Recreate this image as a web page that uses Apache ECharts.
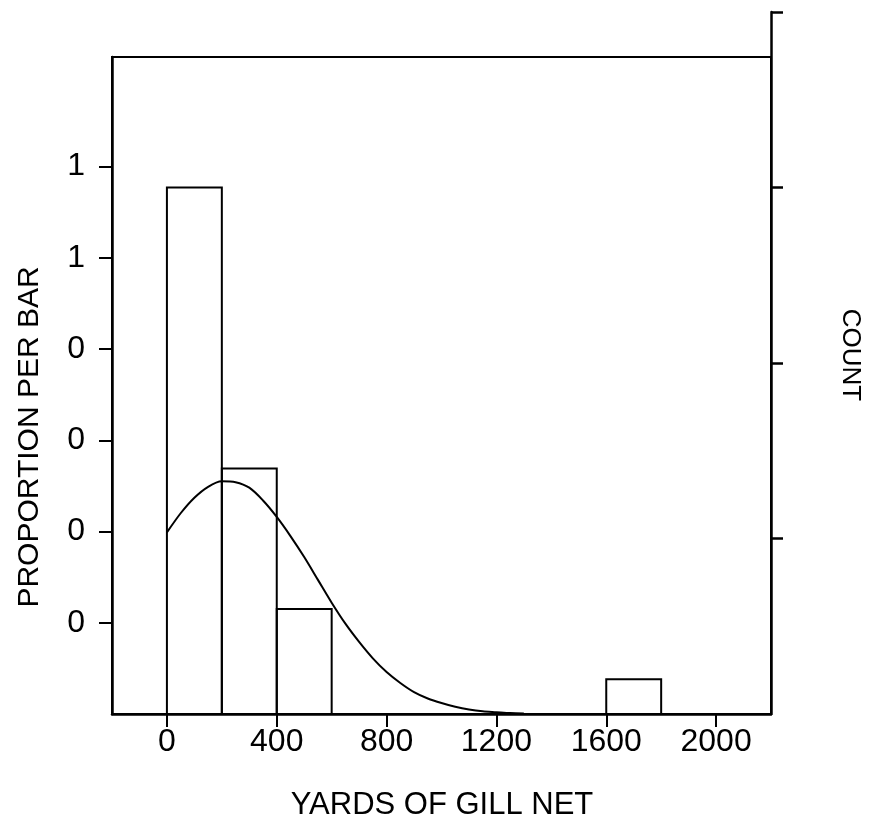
<!DOCTYPE html>
<html><head><meta charset="utf-8">
<script src="https://cdn.jsdelivr.net/npm/echarts@6/dist/echarts.min.js"></script>
<style>html,body{margin:0;padding:0;background:#fff}#c{width:885px;height:831px}</style>
</head><body><div id="c"></div>
<script>
// Histogram bins (yards of gill net) and proportion per bar
var binStart = [0, 200, 400, 1600];
var binEnd = [200, 400, 600, 1800];
var binProportion = [0.577, 0.269, 0.115, 0.038];
// Smooth curve
var curveX = [0, 50, 100, 150, 200, 250, 300, 350, 400, 450, 500, 550, 600, 650, 700, 750, 800, 850, 900, 950, 1000, 1050, 1100, 1150, 1200, 1250, 1300];
var curveY = [0.199, 0.220, 0.237, 0.249, 0.255, 0.254, 0.248, 0.234, 0.216, 0.195, 0.172, 0.147, 0.122, 0.099, 0.079, 0.061, 0.046, 0.034, 0.024, 0.017, 0.012, 0.008, 0.005, 0.003, 0.002, 0.001, 0.0005];
// Tick values / labels
var xTicks = [0, 400, 800, 1200, 1600, 2000];
var xTickLabels = ['0', '400', '800', '1200', '1600', '2000'];
var yTicks = [0.1, 0.2, 0.3, 0.4, 0.5, 0.6];
var yTickLabels = ['0', '0', '0', '0', '1', '1'];
var countTicks = [5, 10, 15, 20];

var FONT = 'Liberation Sans, Arial, sans-serif';
var chart = echarts.init(document.getElementById('c'), null, {renderer: 'canvas'});

var histData = binStart.map(function (s, i) { return [s, binEnd[i], binProportion[i]]; });
var curveData = curveX.map(function (x, i) { return [x, curveY[i]]; });

function lookup(ticks, labels, v) {
  for (var i = 0; i < ticks.length; i++) { if (Math.abs(ticks[i] - v) < 1e-6) return labels[i]; }
  return '';
}

var option = {
  backgroundColor: '#fff',
  animation: false,
  grid: [
    {left: 112, right: 114, top: 57, bottom: 117, show: true, borderColor: '#000', borderWidth: 2, backgroundColor: 'transparent'},
    {left: 112, right: 114, top: 12, bottom: 117, show: false}
  ],
  xAxis: [
    {
      type: 'value', gridIndex: 0, min: -200, max: 2200,
      axisLine: {show: true, onZero: false, lineStyle: {color: '#000', width: 2.5}},
      axisTick: {show: true, inside: false, length: 13, customValues: xTicks, lineStyle: {color: '#000', width: 2}},
      axisLabel: {show: true, customValues: xTicks, margin: 12, color: '#000', fontSize: 32, fontFamily: FONT,
        formatter: function (v) { return lookup(xTicks, xTickLabels, v); }},
      splitLine: {show: false}
    },
    {
      type: 'value', gridIndex: 1, min: -200, max: 2200, show: false
    }
  ],
  yAxis: [
    {
      type: 'value', gridIndex: 0, min: 0, max: 0.72, position: 'left',
      axisLine: {show: true, onZero: false, lineStyle: {color: '#000', width: 2.5}},
      axisTick: {show: true, inside: false, length: 13, customValues: yTicks, lineStyle: {color: '#000', width: 2}},
      axisLabel: {show: true, customValues: yTicks, margin: 27, color: '#000', fontSize: 32, fontFamily: FONT,
        formatter: function (v) { return lookup(yTicks, yTickLabels, v); }},
      splitLine: {show: false}
    },
    {
      type: 'value', gridIndex: 1, min: 0, max: 20, position: 'right',
      axisLine: {show: true, onZero: false, lineStyle: {color: '#000', width: 2.5}},
      axisTick: {show: true, inside: false, length: 12, customValues: countTicks, lineStyle: {color: '#000', width: 2.5}},
      axisLabel: {show: false},
      splitLine: {show: false}
    }
  ],
  graphic: [
    {type: 'text', x: 442, y: 805,
      style: {text: 'YARDS OF GILL NET', fontSize: 31, fontFamily: FONT, fill: '#000', align: 'center', verticalAlign: 'middle'}},
    {type: 'text', x: 30, y: 437, rotation: Math.PI / 2,
      style: {text: 'PROPORTION PER BAR', fontSize: 30, fontFamily: FONT, fill: '#000', align: 'center', verticalAlign: 'middle'}},
    {type: 'text', x: 850, y: 355, rotation: -Math.PI / 2,
      style: {text: 'COUNT', fontSize: 26, fontFamily: FONT, fill: '#000', align: 'center', verticalAlign: 'middle'}}
  ],
  series: [
    {
      type: 'custom', xAxisIndex: 0, yAxisIndex: 0,
      data: histData,
      renderItem: function (params, api) {
        var p0 = api.coord([api.value(0), api.value(2)]);
        var p1 = api.coord([api.value(1), 0]);
        return {type: 'rect', shape: {x: p0[0], y: p0[1], width: p1[0] - p0[0], height: p1[1] - p0[1]},
          style: {fill: 'transparent', stroke: '#000', lineWidth: 2}};
      },
      z: 2
    },
    {
      type: 'line', xAxisIndex: 0, yAxisIndex: 0,
      data: curveData, smooth: 0.3, showSymbol: false, symbol: 'none',
      lineStyle: {color: '#000', width: 2}, z: 3
    }
  ]
};
chart.setOption(option);
</script>
</body></html>
